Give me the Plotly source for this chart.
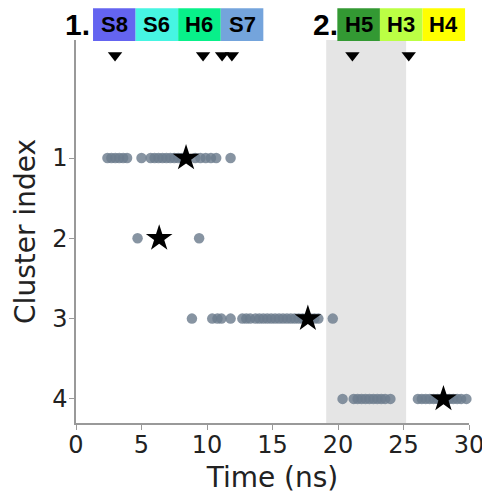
import plotly.graph_objects as go

# ---- data ----
c1_times = [2.4, 2.7, 3.0, 3.3, 3.6, 3.9, 5.0, 5.7, 6.0, 6.3, 6.6, 6.9, 7.2, 7.5, 7.8, 8.1,
            9.1, 9.5, 9.9, 10.3, 10.7, 11.8]
c2_times = [4.7, 9.4]
c3_times = [8.85, 10.4, 10.8, 11.1, 11.8, 12.7, 13.0, 13.3, 13.7, 14.0, 14.3, 14.6, 14.9,
            15.2, 15.5, 15.8, 16.1, 16.4, 16.7, 17.0, 17.3, 17.6, 17.9, 18.2, 18.5, 19.6]
c4_times = [20.35, 21.2, 21.5, 21.8, 22.1, 22.4, 22.7, 23.0, 23.3, 23.6, 24.0,
            26.1, 26.4, 26.7, 27.0, 27.3, 27.6, 27.9, 28.2, 28.5, 28.8, 29.1, 29.4, 29.8]
clusters = [1, 2, 3, 4]
centroid_times = [8.4, 6.35, 17.7, 28.05]
event_times = [2.98, 9.7, 11.15, 11.9, 21.1, 25.4]
shade_start, shade_end = 19.1, 25.2

group1_labels = ["S8", "S6", "H6", "S7"]
group1_colors = ["#6464f0", "#46f5e2", "#08f08a", "#74a4dc"]
group2_labels = ["H5", "H3", "H4"]
group2_colors = ["#339933", "#bbff44", "#ffff00"]

x_ticks = [0, 5, 10, 15, 20, 25, 30]

# ---- figure ----
fig = go.Figure()

pt_color = "rgba(108,124,141,0.82)"
for c, times in zip(clusters, [c1_times, c2_times, c3_times, c4_times]):
    fig.add_trace(go.Scatter(x=times, y=[c] * len(times), mode="markers",
                             marker=dict(size=10.5, color=pt_color, line=dict(width=0)),
                             showlegend=False, hoverinfo="skip", cliponaxis=False))

fig.add_trace(go.Scatter(x=centroid_times, y=clusters, mode="markers",
                         marker=dict(symbol="star", size=20, color="black", line=dict(width=0)),
                         showlegend=False, cliponaxis=False))

fig.add_trace(go.Scatter(x=event_times, y=[-0.28] * len(event_times), mode="markers",
                         marker=dict(symbol="triangle-down", size=12.5, color="black",
                                     line=dict(width=0)),
                         showlegend=False))

shapes = [dict(type="rect", xref="x", yref="paper", x0=shade_start, x1=shade_end,
               y0=0, y1=1, fillcolor="#e5e5e5", line=dict(width=0), layer="below")]

annotations = []
box_w = 3.25
y0b, y1b = 0.9975, 1.083
lab_font = dict(family="Liberation Sans, Arial", size=22, color="black")

def add_group(start, labels, colors):
    for i, (lab, col) in enumerate(zip(labels, colors)):
        xa = start + i * box_w
        shapes.append(dict(type="rect", xref="x", yref="paper", x0=xa, x1=xa + box_w,
                           y0=y0b, y1=y1b, fillcolor=col, line=dict(width=0)))
        annotations.append(dict(x=xa + box_w / 2, y=(y0b + y1b) / 2, xref="x", yref="paper",
                                text="<b>%s</b>" % lab, showarrow=False, font=lab_font,
                                xanchor="center", yanchor="middle"))

add_group(1.3, group1_labels, group1_colors)
add_group(19.95, group2_labels, group2_colors)

big_font = dict(family="Liberation Sans, Arial", size=30, color="black")
annotations.append(dict(x=0.15, y=(y0b + y1b) / 2, xref="x", yref="paper", text="<b>1.</b>",
                        showarrow=False, font=big_font, xanchor="center", yanchor="middle"))
annotations.append(dict(x=19.05, y=(y0b + y1b) / 2, xref="x", yref="paper", text="<b>2.</b>",
                        showarrow=False, font=big_font, xanchor="center", yanchor="middle"))

tick_font = dict(family="DejaVu Sans", size=24, color="#222")
title_font = dict(family="DejaVu Sans", size=28, color="#222")

# the page body adds an 8px offset, so the figure is 8px smaller on each leading side
fig.update_layout(
    width=482, height=489,
    margin=dict(l=68, r=21, t=32, b=74),
    paper_bgcolor="white", plot_bgcolor="white",
    shapes=shapes, annotations=annotations,
    xaxis=dict(range=[0, 30], tickvals=x_ticks, ticks="outside", ticklen=5,
               tickcolor="#999", showline=True, linecolor="#999", linewidth=1.5,
               showgrid=False, zeroline=False, tickfont=tick_font, automargin=False,
               ticklabelstandoff=-6,
               title=dict(text="Time (ns)", font=title_font, standoff=10)),
    yaxis=dict(range=[4.3, -0.47], tickvals=clusters, ticks="outside", ticklen=5,
               tickcolor="#999", showline=True, linecolor="#999", linewidth=1.5,
               showgrid=False, zeroline=False, tickfont=tick_font, automargin=False,
               ticklabelstandoff=-3,
               title=dict(text="Cluster index", font=title_font, standoff=8)),
)

fig.write_html("out.html")
